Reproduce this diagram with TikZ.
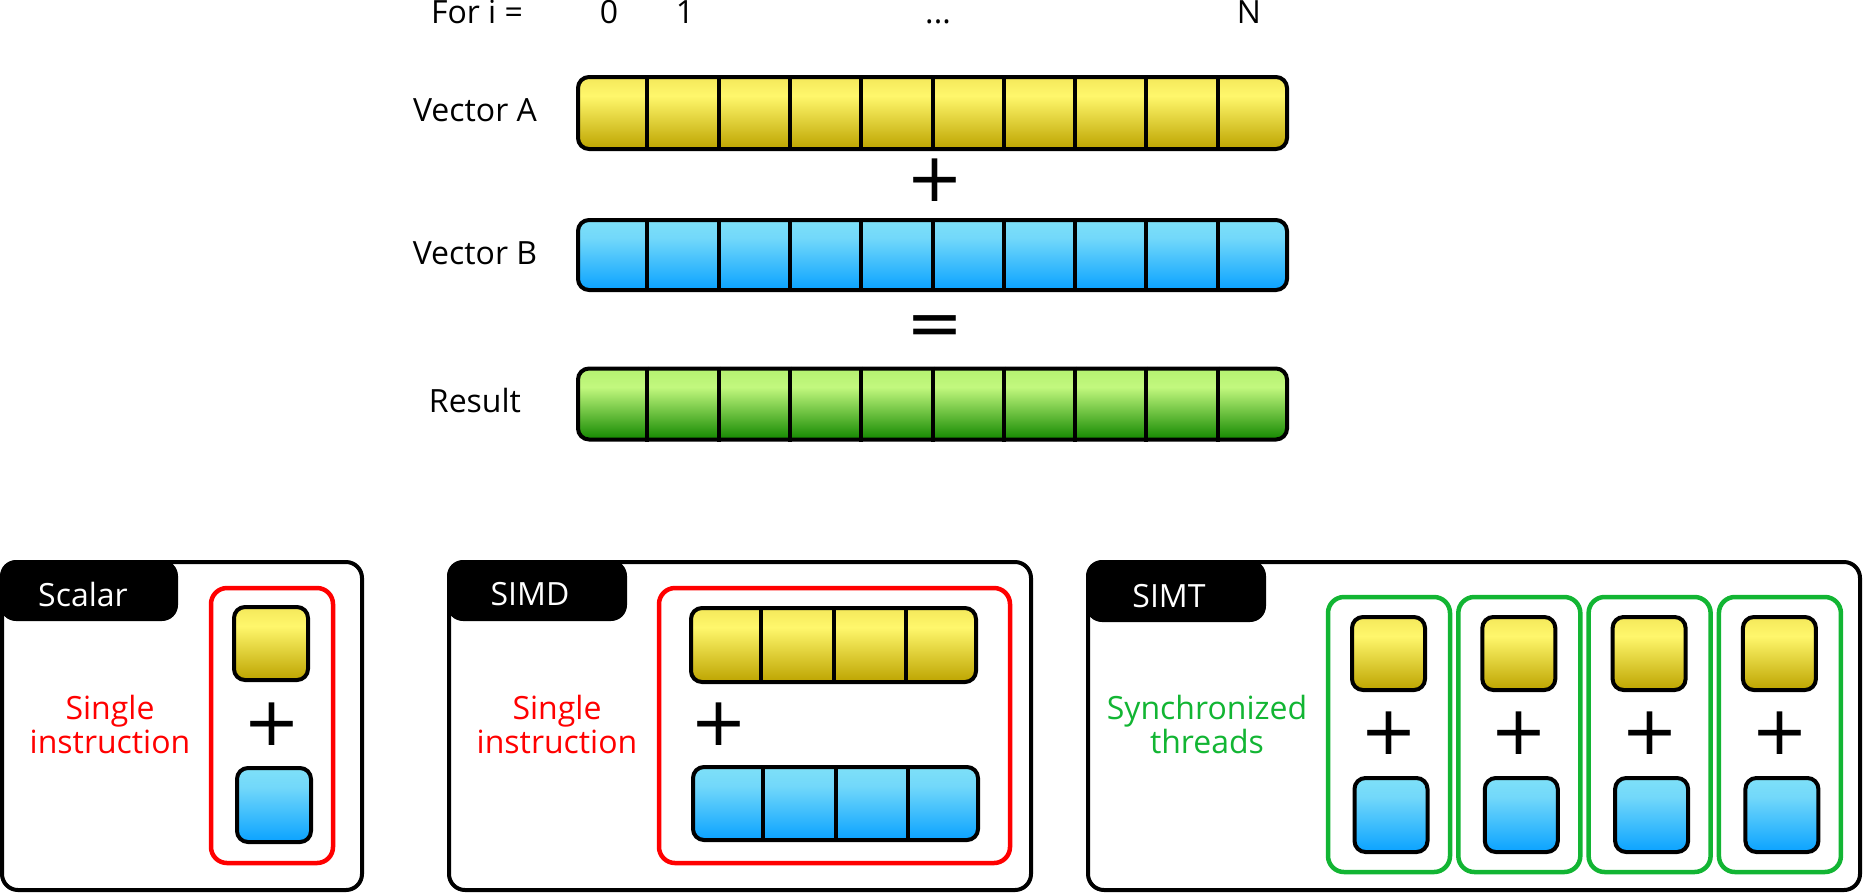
\documentclass[tikz,border=0pt]{standalone}
\usepackage{fontspec}
\setmainfont{Open Sans}
\newfontfamily\opfont{DejaVu Sans}
\usetikzlibrary{calc}
\definecolor{ytop}{HTML}{F4E85A}
\definecolor{ymid}{HTML}{FFF76C}
\definecolor{ybot}{HTML}{BDA400}
\definecolor{btop}{HTML}{7EE0F8}
\definecolor{bmid}{HTML}{72D8FA}
\definecolor{bbot}{HTML}{0AA2FF}
\definecolor{gtop}{HTML}{B4F070}
\definecolor{gmid}{HTML}{C2F87E}
\definecolor{gbot}{HTML}{138800}
\definecolor{redc}{HTML}{FF0000}
\definecolor{greenc}{HTML}{12B533}
\pgfdeclareverticalshading{yelsh}{100bp}{color(0bp)=(ybot); color(25bp)=(ybot); color(62bp)=(ymid); color(75bp)=(ytop); color(100bp)=(ytop)}
\pgfdeclareverticalshading{blush}{100bp}{color(0bp)=(bbot); color(25bp)=(bbot); color(62bp)=(bmid); color(75bp)=(btop); color(100bp)=(btop)}
\pgfdeclareverticalshading{grnsh}{100bp}{color(0bp)=(gbot); color(25bp)=(gbot); color(62bp)=(gmid); color(75bp)=(gtop); color(100bp)=(gtop)}
\begin{document}
\begin{tikzpicture}[x=1pt,y=-1pt,
  txt/.style={font=\fontsize{32}{34}\selectfont, inner sep=0pt, align=center},
  optxt/.style={font=\opfont\fontsize{68}{68}\selectfont, inner sep=0pt},
  cellbox/.style={draw=black, line width=4pt, rounded corners=11pt, inner sep=0pt},
  yel/.style={cellbox, shading=yelsh},
  blu/.style={cellbox, shading=blush},
  grn/.style={cellbox, shading=grnsh},
  panel/.style={draw=black, line width=4pt, rounded corners=16pt, inner sep=0pt},
  tabbox/.style={fill=black, rounded corners=16pt, inner sep=0pt},
  tabtxt/.style={txt, text=white},
  redbox/.style={draw=redc, line width=4.5pt, rounded corners=16pt, inner sep=0pt},
  grnbox/.style={draw=greenc, line width=4.5pt, rounded corners=16pt, inner sep=0pt},
  divider/.style={line width=4pt}]
\useasboundingbox (0,0) rectangle (1863,895);

% index row
\node[txt, anchor=base] (fori) at (477,23) {For i =};
\node[txt, anchor=base] (i0) at (609,23) {0};
\node[txt, anchor=base] (i1) at (685,23) {1};
\node[txt, anchor=base] (idots) at (938,23) {...};
\node[txt, anchor=base] (iN) at (1249,23) {N};

% big vectors
\node[yel, minimum width=709pt, minimum height=72pt] (va) at (932.5,113) {};
\node[blu, minimum width=709pt, minimum height=70pt] (vb) at (932.5,255) {};
\node[grn, minimum width=709pt, minimum height=71pt] (vr) at (932.5,404) {};
\foreach \v in {va,vb,vr}{
  \foreach \i in {1,...,9}{
    \draw[divider] ($(\v.north west)!\i/10!(\v.north east)$) -- ($(\v.south west)!\i/10!(\v.south east)$);
  }
}
\node[txt] (la) at (475,110) {Vector A};
\node[txt] (lb) at (475,253) {Vector B};
\node[txt] (lr) at (475,400) {Result};
\node[optxt] (plus) at (934.5,180.5) {+};
\node[optxt] (eq) at (934.5,331) {=};

% Scalar panel
\node[panel, minimum width=360pt, minimum height=328pt] (ps) at (182,726) {};
\path[tabbox] (ps.north west) rectangle (178,621);
\node[tabtxt] (ts) at (83,594) {Scalar};
\node[redbox, minimum width=122pt, minimum height=275pt] (rs) at (272,725.5) {};
\node[yel, minimum width=74pt, minimum height=73pt] (sa) at (271,643.5) {};
\node[blu, minimum width=74pt, minimum height=74pt] (sb) at (274,805) {};
\node[optxt] (sp) at (272,724) {+};
\node[txt, text=redc] (st) at (110,724) {Single\\instruction};

% SIMD panel
\node[panel, minimum width=582pt, minimum height=328pt] (pd) at (740,726) {};
\path[tabbox] (pd.north west) rectangle (627,621);
\node[tabtxt] (td) at (530,594) {SIMD};
\node[redbox, minimum width=351pt, minimum height=275pt] (rd) at (834.5,725.5) {};
\node[yel, minimum width=285pt, minimum height=74pt] (da) at (833.5,645) {};
\node[blu, minimum width=285pt, minimum height=73pt] (db) at (835.5,803.5) {};
\foreach \v in {da,db}{
  \foreach \i in {1,2,3}{
    \draw[divider] ($(\v.north west)!\i/4!(\v.north east)$) -- ($(\v.south west)!\i/4!(\v.south east)$);
  }
}
\node[optxt] (dp) at (719,724) {+};
\node[txt, text=redc] (dt) at (557,724) {Single\\instruction};

% SIMT panel
\node[panel, minimum width=772pt, minimum height=328pt] (pt) at (1474,726) {};
\path[tabbox] (pt.north west) rectangle (1266,622);
\node[tabtxt] (tt) at (1169,596) {SIMT};
\foreach \k in {0,1,2,3}{
  \pgfmathsetmacro{\cx}{1389+130.3*\k}
  \node[grnbox, minimum width=122pt, minimum height=275pt] (g\k) at (\cx,734.5) {};
  \node[yel, minimum width=73pt, minimum height=73pt] (ga\k) at ($(g\k.center)+(-0.5,-81)$) {};
  \node[blu, minimum width=73pt, minimum height=74pt] (gb\k) at ($(g\k.center)+(2,80.5)$) {};
  \node[optxt] (gp\k) at ($(g\k.center)+(0,-1.5)$) {+};
}
\node[txt, text=greenc] (tt2) at (1207,724) {Synchronized\\threads};
\end{tikzpicture}
\end{document}
